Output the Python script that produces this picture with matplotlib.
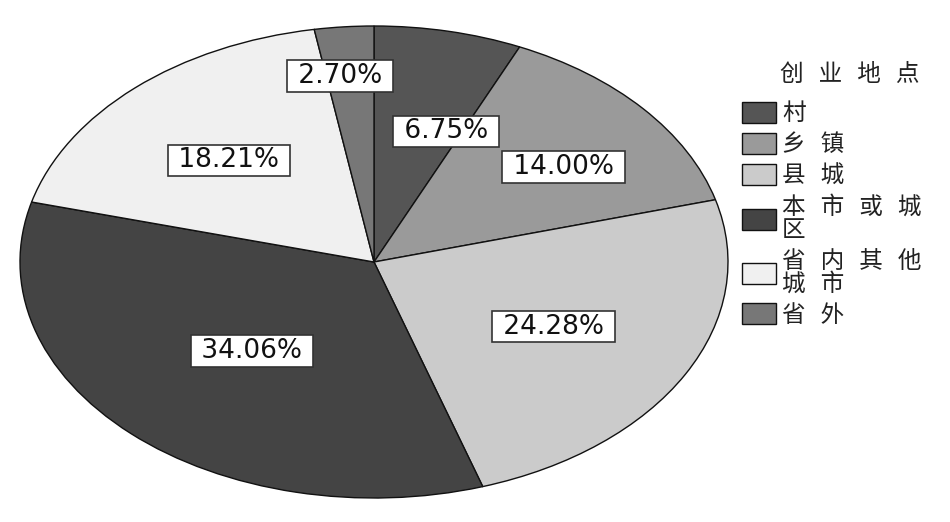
import numpy as np
import matplotlib.pyplot as plt

plt.rcParams['font.family'] = ['Noto Sans CJK SC', 'DejaVu Sans']

# data
locations = ['村', '乡镇', '县城', '本市或城区', '省内其他城市', '省外']
legend_labels = ['村', '乡镇', '县城', '本市或城\n区', '省内其他\n城市', '省外']
legend_title = '创业地点'
shares = [6.75, 14.00, 24.28, 34.06, 18.21, 2.70]
colors = ['#555555', '#9a9a9a', '#cbcbcb', '#444444', '#f0f0f0', '#777777']
# where each percentage box sits: fraction of radius, clockwise nudge in degrees
label_r = [0.59, 0.67, 0.576, 0.511, 0.595, 0.794]
label_nudge = [8, 3.6, 0, -1, -1, -2]


def spaced(s):
    # the legend text in the original is widely letter-spaced
    return '\n'.join('  '.join(line) for line in s.split('\n'))


fig = plt.figure(figsize=(9.5, 5.22), dpi=100)
ax = fig.add_axes([20 / 950, 24 / 522, 708 / 950, 472 / 522])

wedges, _ = ax.pie(shares, colors=colors, startangle=90, counterclock=False,
                   radius=1, wedgeprops=dict(edgecolor='#111111', linewidth=1.0))
ax.set_aspect('auto')
ax.set_xlim(-1.0, 1.0)
ax.set_ylim(-1.0, 1.0)

for w, val, r, nd in zip(wedges, shares, label_r, label_nudge):
    ang = np.deg2rad((w.theta1 + w.theta2) / 2 - nd)
    x, y = r * np.cos(ang), r * np.sin(ang)
    ax.text(x, y, f' {val:.2f}% ', ha='center', va='center', fontsize=19,
            family=['DejaVu Sans'], color='#111111',
            bbox=dict(boxstyle='square,pad=0.1', fc='white', ec='#333333', lw=1.2))

leg = ax.legend(wedges, [spaced(s) for s in legend_labels], title=spaced(legend_title),
                frameon=False, loc='upper left',
                bbox_to_anchor=(742 / 950, 1 - 62 / 522),
                bbox_transform=fig.transFigure, fontsize=17, title_fontsize=17,
                handlelength=1.45, handleheight=1.0, handletextpad=0.25,
                labelspacing=0.3, borderaxespad=0, borderpad=0)
for t in leg.get_texts():
    t.set_family(['DejaVu Sans', 'Noto Sans CJK SC'])
    t.set_linespacing(0.95)
    t.set_color('#222222')
leg.get_title().set_family(['DejaVu Sans', 'Noto Sans CJK SC'])
leg.get_title().set_color('#222222')
leg._legend_box.align = 'left'
leg._legend_box.sep = 11
leg.get_title().set_position((38, 0))

fig.savefig('out.png', dpi=100)
